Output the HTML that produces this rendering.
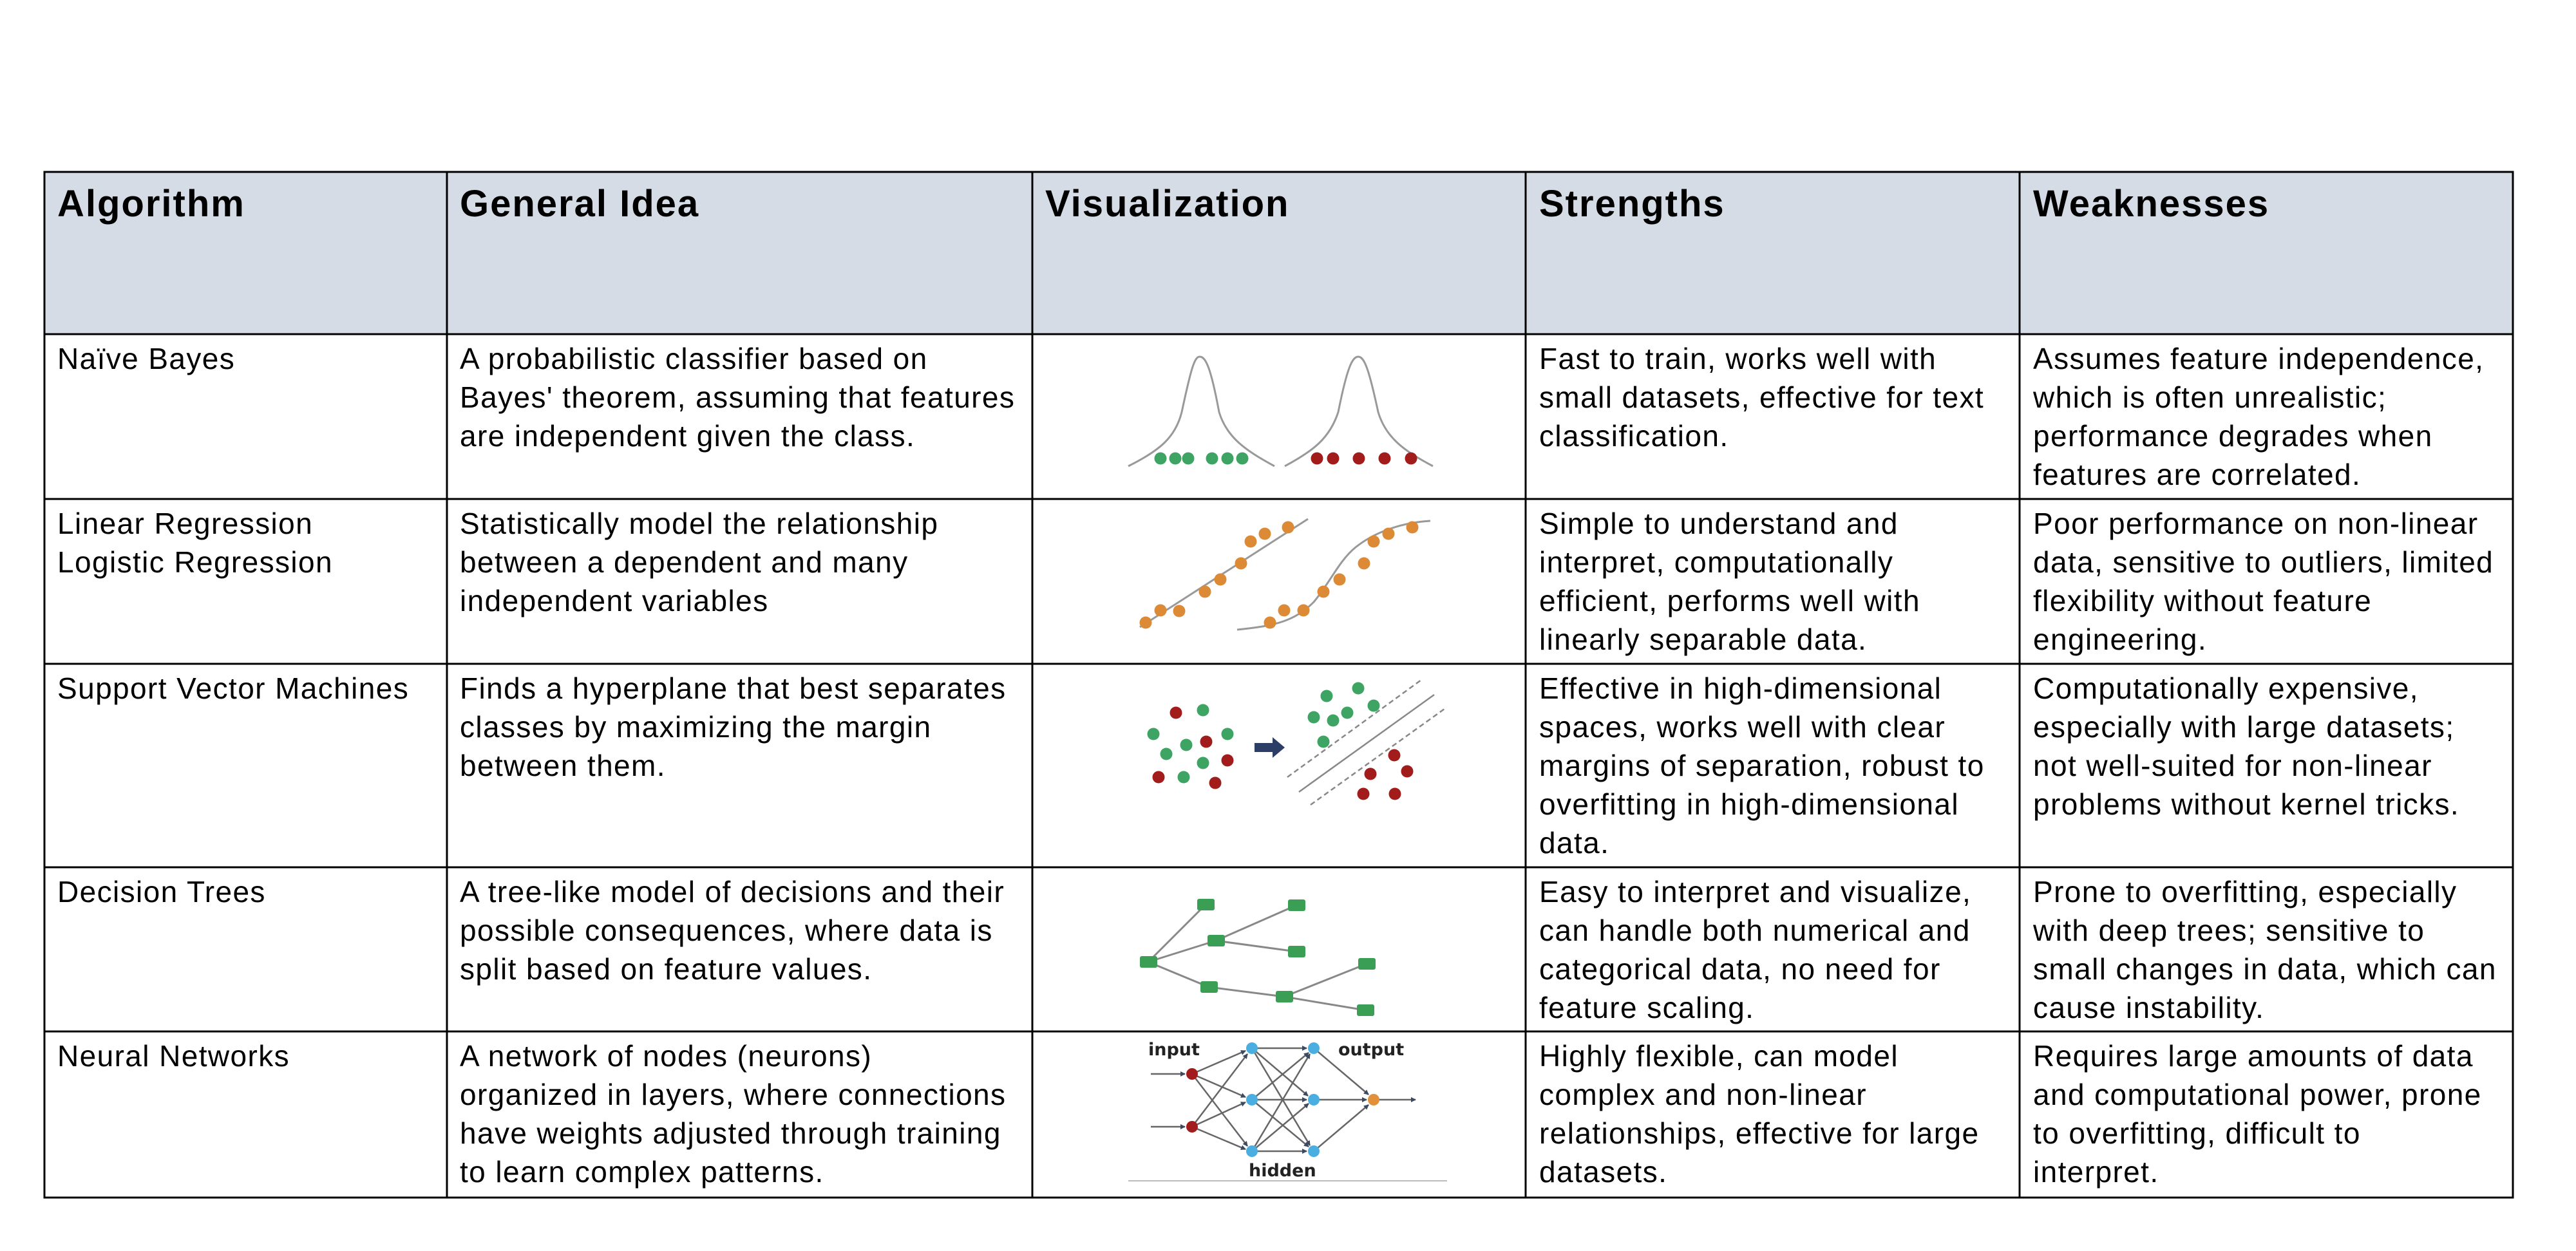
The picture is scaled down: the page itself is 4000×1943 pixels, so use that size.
<!DOCTYPE html>
<html><head><meta charset="utf-8"><style>html,body{margin:0;padding:0;background:#fff}svg{display:block}</style></head>
<body>
<svg width="4000" height="1943" viewBox="0 0 4000 1943" xmlns="http://www.w3.org/2000/svg" font-family="'Liberation Sans', sans-serif">
<rect x="69" y="267" width="3833" height="252" fill="#d6dce5"/>
<g font-size="58" font-weight="bold" fill="#000" letter-spacing="2">
<text x="89" y="336">Algorithm</text>
<text x="714" y="336">General Idea</text>
<text x="1623" y="336">Visualization</text>
<text x="2390" y="336">Strengths</text>
<text x="3157" y="336">Weaknesses</text>
</g>
<g font-size="46" fill="#000" letter-spacing="1.4">
<text x="89" y="573">Naïve Bayes</text>
<text x="714" y="573">A probabilistic classifier based on</text>
<text x="714" y="633">Bayes' theorem, assuming that features</text>
<text x="714" y="693">are independent given the class.</text>
<text x="2390" y="573">Fast to train, works well with</text>
<text x="2390" y="633">small datasets, effective for text</text>
<text x="2390" y="693">classification.</text>
<text x="3157" y="573">Assumes feature independence,</text>
<text x="3157" y="633">which is often unrealistic;</text>
<text x="3157" y="693">performance degrades when</text>
<text x="3157" y="753">features are correlated.</text>
<text x="89" y="829">Linear Regression</text>
<text x="89" y="889">Logistic Regression</text>
<text x="714" y="829">Statistically model the relationship</text>
<text x="714" y="889">between a dependent and many</text>
<text x="714" y="949">independent variables</text>
<text x="2390" y="829">Simple to understand and</text>
<text x="2390" y="889">interpret, computationally</text>
<text x="2390" y="949">efficient, performs well with</text>
<text x="2390" y="1009">linearly separable data.</text>
<text x="3157" y="829">Poor performance on non-linear</text>
<text x="3157" y="889">data, sensitive to outliers, limited</text>
<text x="3157" y="949">flexibility without feature</text>
<text x="3157" y="1009">engineering.</text>
<text x="89" y="1085">Support Vector Machines</text>
<text x="714" y="1085">Finds a hyperplane that best separates</text>
<text x="714" y="1145">classes by maximizing the margin</text>
<text x="714" y="1205">between them.</text>
<text x="2390" y="1085">Effective in high-dimensional</text>
<text x="2390" y="1145">spaces, works well with clear</text>
<text x="2390" y="1205">margins of separation, robust to</text>
<text x="2390" y="1265">overfitting in high-dimensional</text>
<text x="2390" y="1325">data.</text>
<text x="3157" y="1085">Computationally expensive,</text>
<text x="3157" y="1145">especially with large datasets;</text>
<text x="3157" y="1205">not well-suited for non-linear</text>
<text x="3157" y="1265">problems without kernel tricks.</text>
<text x="89" y="1401">Decision Trees</text>
<text x="714" y="1401">A tree-like model of decisions and their</text>
<text x="714" y="1461">possible consequences, where data is</text>
<text x="714" y="1521">split based on feature values.</text>
<text x="2390" y="1401">Easy to interpret and visualize,</text>
<text x="2390" y="1461">can handle both numerical and</text>
<text x="2390" y="1521">categorical data, no need for</text>
<text x="2390" y="1581">feature scaling.</text>
<text x="3157" y="1401">Prone to overfitting, especially</text>
<text x="3157" y="1461">with deep trees; sensitive to</text>
<text x="3157" y="1521">small changes in data, which can</text>
<text x="3157" y="1581">cause instability.</text>
<text x="89" y="1656">Neural Networks</text>
<text x="714" y="1656">A network of nodes (neurons)</text>
<text x="714" y="1716">organized in layers, where connections</text>
<text x="714" y="1776">have weights adjusted through training</text>
<text x="714" y="1836">to learn complex patterns.</text>
<text x="2390" y="1656">Highly flexible, can model</text>
<text x="2390" y="1716">complex and non-linear</text>
<text x="2390" y="1776">relationships, effective for large</text>
<text x="2390" y="1836">datasets.</text>
<text x="3157" y="1656">Requires large amounts of data</text>
<text x="3157" y="1716">and computational power, prone</text>
<text x="3157" y="1776">to overfitting, difficult to</text>
<text x="3157" y="1836">interpret.</text>
</g>

<g fill="none" stroke="#999" stroke-width="3">
<path d="M1752 724 C1800 700 1825 680 1835 640 C1850 570 1855 554 1863 554 C1872 554 1880 570 1893 640 C1905 680 1935 700 1979 724"/>
<path d="M1995 724 C2040 700 2065 680 2078 640 C2092 570 2100 554 2109 554 C2118 554 2125 570 2140 640 C2152 680 2180 700 2225 724"/>
</g>
<g fill="#3ea463">
<circle cx="1802" cy="712" r="9.5"/><circle cx="1825" cy="712" r="9.5"/><circle cx="1845" cy="712" r="9.5"/>
<circle cx="1882" cy="712" r="9.5"/><circle cx="1906" cy="712" r="9.5"/><circle cx="1929" cy="712" r="9.5"/>
</g>
<g fill="#a31c1c">
<circle cx="2045" cy="712" r="9.5"/><circle cx="2070" cy="712" r="9.5"/><circle cx="2110" cy="712" r="9.5"/>
<circle cx="2150" cy="712" r="9.5"/><circle cx="2191" cy="712" r="9.5"/>
</g>

<g fill="none" stroke="#999" stroke-width="3">
<line x1="1770" y1="974" x2="2031" y2="806"/>
<path d="M1921 978 C1980 972 2010 965 2040 935 C2065 905 2080 870 2105 850 C2130 830 2170 812 2221 809"/>
</g>
<g fill="#dc8a36">
<circle cx="1779" cy="967" r="9.5"/><circle cx="1802" cy="948" r="9.5"/><circle cx="1831" cy="949" r="9.5"/>
<circle cx="1871" cy="919" r="9.5"/><circle cx="1895" cy="900" r="9.5"/><circle cx="1927" cy="875" r="9.5"/>
<circle cx="1942" cy="841" r="9.5"/><circle cx="1964" cy="829" r="9.5"/><circle cx="2000" cy="819" r="9.5"/>
<circle cx="1972" cy="967" r="9.5"/><circle cx="1994" cy="948" r="9.5"/><circle cx="2024" cy="948" r="9.5"/>
<circle cx="2055" cy="919" r="9.5"/><circle cx="2080" cy="900" r="9.5"/><circle cx="2118" cy="875" r="9.5"/>
<circle cx="2133" cy="841" r="9.5"/><circle cx="2156" cy="829" r="9.5"/><circle cx="2193" cy="819" r="9.5"/>
</g>

<g fill="#3ea463">
<circle cx="1868" cy="1103" r="9.5"/><circle cx="1791" cy="1140" r="9.5"/><circle cx="1906" cy="1140" r="9.5"/>
<circle cx="1842" cy="1157" r="9.5"/><circle cx="1811" cy="1171" r="9.5"/><circle cx="1868" cy="1185" r="9.5"/>
<circle cx="1838" cy="1207" r="9.5"/>
<circle cx="2060" cy="1081" r="9.5"/><circle cx="2109" cy="1069" r="9.5"/><circle cx="2040" cy="1114" r="9.5"/>
<circle cx="2070" cy="1119" r="9.5"/><circle cx="2092" cy="1107" r="9.5"/><circle cx="2133" cy="1096" r="9.5"/>
<circle cx="2055" cy="1152" r="9.5"/>
</g>
<g fill="#a31c1c">
<circle cx="1826" cy="1107" r="9.5"/><circle cx="1873" cy="1152" r="9.5"/><circle cx="1906" cy="1181" r="9.5"/>
<circle cx="1799" cy="1207" r="9.5"/><circle cx="1887" cy="1216" r="9.5"/>
<circle cx="2165" cy="1173" r="9.5"/><circle cx="2128" cy="1202" r="9.5"/><circle cx="2185" cy="1198" r="9.5"/>
<circle cx="2117" cy="1233" r="9.5"/><circle cx="2166" cy="1233" r="9.5"/>
</g>
<polygon points="1948,1154 1976,1154 1976,1145 1995,1161 1976,1177 1976,1168 1948,1168" fill="#2c3e66"/>
<g stroke="#888" stroke-width="2.5" fill="none">
<line x1="1999" y1="1207" x2="2207" y2="1056" stroke-dasharray="8,5"/>
<line x1="2017" y1="1230" x2="2227" y2="1079"/>
<line x1="2035" y1="1250" x2="2243" y2="1101" stroke-dasharray="8,5"/>
</g>

<g stroke="#888" stroke-width="3">
<line x1="1783" y1="1494" x2="1872" y2="1405"/>
<line x1="1783" y1="1494" x2="1888" y2="1461"/>
<line x1="1783" y1="1494" x2="1877" y2="1533"/>
<line x1="1888" y1="1461" x2="2013" y2="1406"/>
<line x1="1888" y1="1461" x2="2013" y2="1478"/>
<line x1="1877" y1="1533" x2="1994" y2="1548"/>
<line x1="1994" y1="1548" x2="2122" y2="1497"/>
<line x1="1994" y1="1548" x2="2120" y2="1569"/>
</g>
<g fill="#3a9e55">
<rect x="1770" y="1485" width="27" height="18" rx="3"/>
<rect x="1859" y="1396" width="27" height="18" rx="3"/>
<rect x="1875" y="1452" width="27" height="18" rx="3"/>
<rect x="2000" y="1397" width="27" height="18" rx="3"/>
<rect x="2000" y="1469" width="27" height="18" rx="3"/>
<rect x="2109" y="1488" width="27" height="18" rx="3"/>
<rect x="1864" y="1524" width="27" height="18" rx="3"/>
<rect x="1981" y="1539" width="27" height="18" rx="3"/>
<rect x="2107" y="1560" width="27" height="18" rx="3"/>
</g>

<defs><marker id="ar" markerWidth="8" markerHeight="8" refX="7" refY="4" orient="auto" markerUnits="userSpaceOnUse"><path d="M0,0 L8,4 L0,8z" fill="#3a4a60"/></marker></defs>
<g stroke="#666" stroke-width="2.5" marker-end="url(#ar)">
<line x1="1787" y1="1668" x2="1840" y2="1668"/>
<line x1="1787" y1="1750" x2="1840" y2="1750"/>
<line x1="1851" y1="1668" x2="1934" y2="1632"/>
<line x1="1851" y1="1668" x2="1934" y2="1704"/>
<line x1="1851" y1="1668" x2="1937" y2="1780"/>
<line x1="1851" y1="1750" x2="1937" y2="1637"/>
<line x1="1851" y1="1750" x2="1934" y2="1712"/>
<line x1="1851" y1="1750" x2="1934" y2="1785"/>
<line x1="1944" y1="1628" x2="2029" y2="1628"/>
<line x1="1944" y1="1628" x2="2031" y2="1702"/>
<line x1="1944" y1="1628" x2="2034" y2="1779"/>
<line x1="1944" y1="1708" x2="2032" y2="1635"/>
<line x1="1944" y1="1708" x2="2029" y2="1708"/>
<line x1="1944" y1="1708" x2="2032" y2="1781"/>
<line x1="1944" y1="1788" x2="2034" y2="1637"/>
<line x1="1944" y1="1788" x2="2032" y2="1714"/>
<line x1="1944" y1="1788" x2="2029" y2="1788"/>
<line x1="2040" y1="1628" x2="2125" y2="1700"/>
<line x1="2040" y1="1708" x2="2122" y2="1708"/>
<line x1="2040" y1="1788" x2="2125" y2="1716"/>
<line x1="2133" y1="1708" x2="2198" y2="1708"/>
</g>
<circle cx="1851" cy="1668" r="9" fill="#a31c1c"/>
<circle cx="1851" cy="1750" r="9" fill="#a31c1c"/>
<g fill="#4aaee0">
<circle cx="1944" cy="1628" r="9"/><circle cx="1944" cy="1708" r="9"/><circle cx="1944" cy="1788" r="9"/>
<circle cx="2040" cy="1628" r="9"/><circle cx="2040" cy="1708" r="9"/><circle cx="2040" cy="1788" r="9"/>
</g>
<circle cx="2133" cy="1708" r="9" fill="#e0913a"/>
<g font-family="'DejaVu Sans', sans-serif" font-weight="bold" font-size="27" fill="#222">
<text x="1783" y="1639">input</text>
<text x="2078" y="1639">output</text>
<text x="1939" y="1827">hidden</text>
</g>
<line x1="1752" y1="1834" x2="2247" y2="1834" stroke="#bbb" stroke-width="2"/>

<g stroke="#000" stroke-width="3" fill="none">
<rect x="69" y="267" width="3833" height="1593"/>
<line x1="69" y1="519" x2="3902" y2="519"/>
<line x1="69" y1="775" x2="3902" y2="775"/>
<line x1="69" y1="1031" x2="3902" y2="1031"/>
<line x1="69" y1="1347" x2="3902" y2="1347"/>
<line x1="69" y1="1602" x2="3902" y2="1602"/>
<line x1="694" y1="267" x2="694" y2="1860"/>
<line x1="1603" y1="267" x2="1603" y2="1860"/>
<line x1="2369" y1="267" x2="2369" y2="1860"/>
<line x1="3136" y1="267" x2="3136" y2="1860"/>
</g>
</svg>
</body></html>
